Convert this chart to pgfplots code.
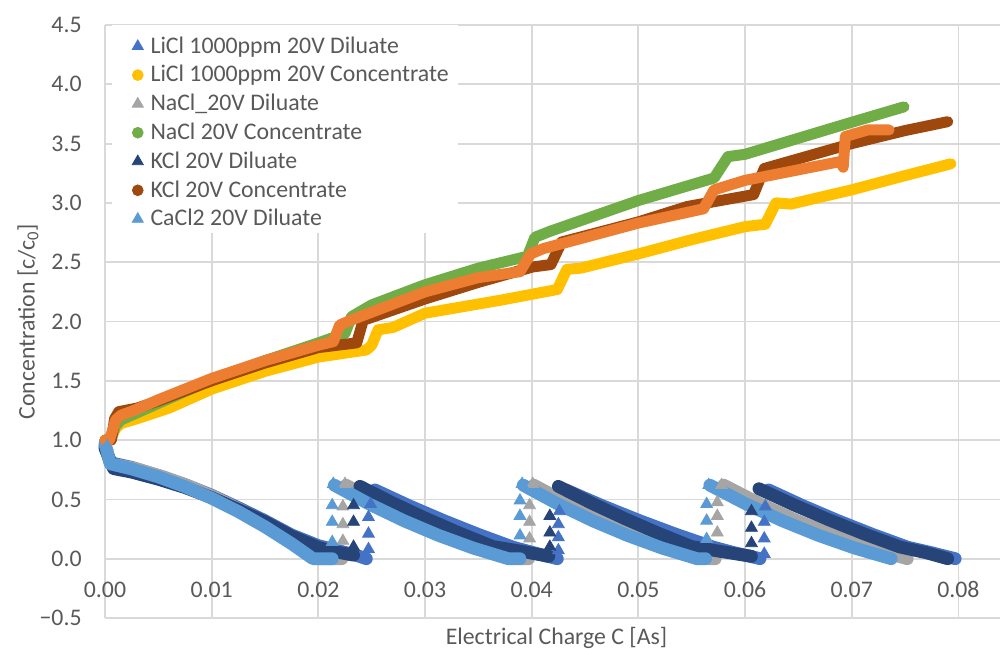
\documentclass[border=0pt]{standalone}
\usepackage{pgfplots}
\pgfplotsset{compat=1.18}
\usepackage{fontspec}
\setmainfont{Carlito}
\definecolor{cLiD}{HTML}{4472C4}
\definecolor{cLiC}{HTML}{FFC000}
\definecolor{cNaD}{HTML}{A5A5A5}
\definecolor{cNaC}{HTML}{70AD47}
\definecolor{cKD}{HTML}{264478}
\definecolor{cKC}{HTML}{9E480E}
\definecolor{cCaD}{HTML}{5B9BD5}
\definecolor{cCaC}{HTML}{ED7D31}
\definecolor{txt}{HTML}{595959}
\definecolor{grd}{HTML}{D9D9D9}
\begin{document}
\begin{tikzpicture}
\begin{axis}[
  scale only axis, width=447.5pt, height=296.5pt,
  xmin=0, xmax=0.0839, ymin=-0.5, ymax=4.5,
  clip=false,
  unbounded coords=jump,
  scaled x ticks=false, scaled y ticks=false,
  axis line style={draw=none},
  tick style={draw=none},
  grid=major,
  major grid style={draw=grd, line width=0.9pt},
  xtick={0,0.01,0.02,0.03,0.04,0.05,0.06,0.07,0.08},
  xticklabels={0.00,0.01,0.02,0.03,0.04,0.05,0.06,0.07,0.08},
  ytick={-0.5,0,0.5,1,1.5,2,2.5,3,3.5,4,4.5},
  yticklabels={−0.5,0.0,0.5,1.0,1.5,2.0,2.5,3.0,3.5,4.0,4.5},
  every tick label/.append style={font=\fontsize{11.9}{14}\selectfont, text=txt},
  xticklabel style={anchor=base, yshift=10.5pt},
  yticklabel style={anchor=east, inner sep=0pt, xshift=-11.5pt},
  every axis x label/.style={at={([yshift=-13pt,xshift=2pt]axis description cs:0.5,0)}, anchor=base, font=\fontsize{11.9}{14}\selectfont, text=txt},
  every axis y label/.style={at={([xshift=-38.5pt]axis description cs:0,0.5)}, anchor=center, rotate=90, font=\fontsize{11.9}{14}\selectfont, text=txt},
  xlabel={Electrical Charge C [As]},
  ylabel={Concentration [c/c\textsubscript{0}]},
  legend image code/.code={\path (-8pt,0pt); \draw[#1] plot coordinates {(0pt,3.4pt)};},
  legend style={at={(axis description cs:0.0078,1)}, anchor=north west, draw=none, fill=white,
    inner xsep=4.5pt, inner ysep=1.6pt, column sep=3.6pt,
    font=\fontsize{11.9}{14}\selectfont, text=txt,
    cells={anchor=base west},
    nodes={inner sep=0pt, text height=12.25pt, text depth=2.15pt}},
  dil/.style={line width=6.4pt, line cap=round, line join=round},
  con/.style={line width=5.5pt, line cap=round, line join=round},
  jm/.style={only marks, mark=triangle*, mark size=3.4pt},
]
% LiCl Diluate
\addplot[dil, cLiD, forget plot] coordinates {
(0,0.95) (0.0005,0.81) (0.0025,0.77) (0.005,0.70) (0.0075,0.625) (0.01,0.535) (0.0125,0.43) (0.015,0.32)
(0.0175,0.20) (0.02,0.11) (0.022,0.065) (0.0235,0.03) (0.0245,0.0)
(0.0249,nan)
(0.0253,0.58) (0.02854,0.445) (0.03178,0.320) (0.03502,0.204) (0.03826,0.097) (0.0400,0.055) (0.0415,0.02) (0.0424,0.0)
(0.0428,nan)
(0.0432,0.58) (0.04666,0.445) (0.05012,0.320) (0.05358,0.204) (0.05704,0.097) (0.0590,0.05) (0.0605,0.02) (0.0614,0.0)
(0.0618,nan)
(0.0622,0.58) (0.06546,0.445) (0.06872,0.320) (0.07198,0.204) (0.07524,0.097) (0.0775,0.05) (0.0797,0.0)};
\addplot[jm, cLiD, forget plot] coordinates {
(0.0247,0.08) (0.0247,0.21) (0.0247,0.35) (0.0249,0.46)
(0.0425,0.07) (0.0425,0.18) (0.0425,0.29) (0.0426,0.40)
(0.0618,0.04) (0.0618,0.17) (0.0618,0.31) (0.0619,0.44)};
% LiCl Concentrate
\addplot[con, cLiC, forget plot] coordinates {
(0,1.0) (0.0005,1.0) (0.001,1.10) (0.0015,1.14) (0.003,1.18) (0.006,1.27) (0.01,1.43) (0.015,1.58) (0.02,1.70)
(0.0245,1.76) (0.025,1.80) (0.0256,1.93) (0.027,1.95) (0.03,2.07) (0.0371,2.18) (0.0424,2.27) (0.0433,2.44)
(0.0446,2.45) (0.05,2.57) (0.055,2.69) (0.06,2.80) (0.0619,2.82) (0.0629,3.0) (0.0643,2.99) (0.07,3.11)
(0.075,3.23) (0.0793,3.33)};
% NaCl Diluate
\addplot[dil, cNaD, forget plot] coordinates {
(0,0.95) (0.0005,0.80) (0.003,0.757) (0.0055,0.69) (0.008,0.607) (0.0105,0.51) (0.013,0.397) (0.0155,0.269)
(0.018,0.126) (0.02,0.0) (0.0222,0.0)
(0.0224,nan)
(0.0226,0.62) (0.02588,0.461) (0.02916,0.320) (0.03244,0.196) (0.03572,0.089) (0.0390,0.0) (0.0397,0.0)
(0.0400,nan)
(0.0402,0.62) (0.0435,0.461) (0.0468,0.320) (0.0500,0.196) (0.0533,0.089) (0.0566,0.0) (0.0572,0.0)
(0.0576,nan)
(0.058,0.62) (0.06144,0.461) (0.06488,0.320) (0.06832,0.196) (0.07176,0.089) (0.0752,0.0)};
\addplot[jm, cNaD, forget plot] coordinates {
(0.0223,0.15) (0.0223,0.29) (0.0223,0.44) (0.0225,0.63)
(0.0398,0.17) (0.0398,0.31) (0.0398,0.45) (0.0401,0.63)
(0.0574,0.22) (0.0574,0.36) (0.0574,0.475) (0.0578,0.62)};
% NaCl Concentrate
\addplot[con, cNaC, forget plot] coordinates {
(0,1.0) (0.0005,1.0) (0.001,1.12) (0.0015,1.17) (0.003,1.23) (0.01,1.51) (0.015,1.67) (0.02,1.82) (0.0225,1.90)
(0.0231,2.04) (0.025,2.14) (0.03,2.31) (0.035,2.45) (0.0396,2.55) (0.0403,2.71) (0.0417,2.76) (0.05,3.02)
(0.0571,3.21) (0.0584,3.39) (0.06,3.41) (0.07,3.68) (0.0749,3.81)};
% KCl Diluate
\addplot[dil, cKD, forget plot] coordinates {
(0,0.93) (0.0008,0.76) (0.0025,0.73) (0.005,0.67) (0.0075,0.60) (0.01,0.515) (0.0125,0.415) (0.015,0.31)
(0.0175,0.19) (0.02,0.095) (0.0215,0.06) (0.0233,0.03)
(0.0236,nan)
(0.0239,0.61) (0.02702,0.468) (0.03014,0.337) (0.03326,0.215) (0.03638,0.102) (0.0392,0.06) (0.0416,0.02)
(0.0420,nan)
(0.0425,0.61) (0.04562,0.468) (0.04874,0.337) (0.05186,0.215) (0.05498,0.102) (0.0578,0.06) (0.0606,0.02)
(0.0609,nan)
(0.0613,0.59) (0.0646,0.453) (0.0679,0.326) (0.0712,0.208) (0.0745,0.099) (0.0770,0.05) (0.0790,0.0)};
\addplot[jm, cKD, forget plot] coordinates {
(0.0233,0.10) (0.0233,0.31) (0.0233,0.45)
(0.0417,0.10) (0.0417,0.22) (0.0417,0.36)
(0.0606,0.13) (0.0606,0.26) (0.0606,0.40)};
% KCl Concentrate
\addplot[con, cKC, forget plot] coordinates {
(0,1.0) (0.0006,1.0) (0.0009,1.18) (0.0013,1.24) (0.003,1.27) (0.005,1.33) (0.01,1.50) (0.015,1.65) (0.02,1.78)
(0.0236,1.82) (0.0242,2.01) (0.0255,2.05) (0.03,2.19) (0.035,2.33) (0.0401,2.46) (0.0418,2.48) (0.0428,2.67)
(0.05,2.84) (0.0546,2.97) (0.0608,3.07) (0.0618,3.29) (0.07,3.50) (0.075,3.61) (0.079,3.685)};
% CaCl2 Diluate
\addplot[dil, cCaD, forget plot] coordinates {
(0,0.97) (0.0005,0.80) (0.0025,0.757) (0.005,0.69) (0.0075,0.607) (0.01,0.51) (0.0125,0.397) (0.015,0.269)
(0.0175,0.126) (0.0195,0.0) (0.0213,0.0)
(0.0214,nan)
(0.0215,0.62) (0.02476,0.461) (0.02802,0.320) (0.03128,0.196) (0.03454,0.089) (0.0378,0.0) (0.0389,0.0)
(0.0390,nan)
(0.0392,0.62) (0.04246,0.461) (0.04572,0.320) (0.04898,0.196) (0.05224,0.089) (0.0555,0.0) (0.0563,0.0)
(0.0565,nan)
(0.0567,0.62) (0.0601,0.461) (0.0635,0.320) (0.0669,0.196) (0.0703,0.089) (0.0737,0.0)};
\addplot[jm, cCaD, forget plot] coordinates {
(0.0002,0.95) (0.0003,0.89)
(0.0213,0.14) (0.0213,0.31) (0.0213,0.45) (0.0214,0.63)
(0.0389,0.195) (0.0389,0.36) (0.0389,0.49) (0.0391,0.63)
(0.0564,0.165) (0.0564,0.32) (0.0564,0.46) (0.0566,0.62)};
% CaCl2 Concentrate (not in legend)
\addplot[con, cCaC, forget plot] coordinates {
(0,1.0) (0.0004,1.0) (0.0007,1.08) (0.001,1.17) (0.0015,1.21) (0.0027,1.25) (0.005,1.34) (0.01,1.52) (0.015,1.67)
(0.02,1.80) (0.0214,1.83) (0.022,1.97) (0.0233,2.02) (0.03,2.25) (0.035,2.37) (0.0389,2.42) (0.0399,2.57)
(0.0411,2.615) (0.05,2.83) (0.0561,2.95) (0.0571,3.11) (0.06,3.19) (0.069,3.35) (0.0692,3.30) (0.0694,3.56)
(0.0715,3.615) (0.0735,3.615)};
\addlegendimage{mark=triangle*, mark size=3.2pt, cLiD}
\addlegendimage{mark=*, mark size=2.7pt, cLiC}
\addlegendimage{mark=triangle*, mark size=3.2pt, cNaD}
\addlegendimage{mark=*, mark size=2.7pt, cNaC}
\addlegendimage{mark=triangle*, mark size=3.2pt, cKD}
\addlegendimage{mark=*, mark size=2.7pt, cKC}
\addlegendimage{mark=triangle*, mark size=3.2pt, cCaD}
\legend{LiCl 1000ppm 20V Diluate, LiCl 1000ppm 20V Concentrate, NaCl\_20V Diluate, NaCl 20V Concentrate, KCl 20V Diluate, KCl 20V Concentrate, CaCl2 20V Diluate}
\end{axis}
\pgfresetboundingbox
\path (current axis.south west) ++(-52.5pt,-15pt) rectangle ++(500pt,324pt);
\end{tikzpicture}
\end{document}
